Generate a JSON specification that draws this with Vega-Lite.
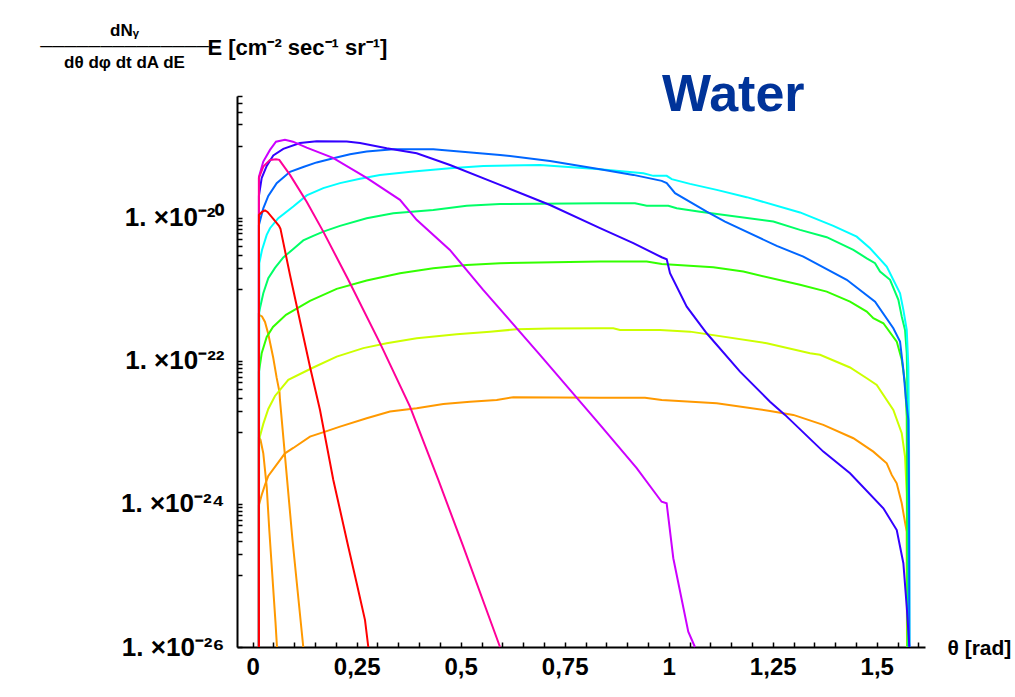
{
"$schema": "https://vega.github.io/schema/vega-lite/v6.json",
"width": 688, "height": 551,
"autosize": {"type": "none"},
"padding": {"left": 237, "top": 96, "right": 90, "bottom": 50},
"background": "white",
"config": {"view": {"stroke": null}, "font": "Liberation Sans"},
"title": {"text": "Water", "anchor": "start", "frame": "group", "dx": 425, "dy": 146, "fontSize": 52, "fontWeight": "bold", "color": "#003399", "font": "Liberation Sans", "baseline": "alphabetic"},
"layer": [
{
"data": {"values": [
{"c":"o1","i":0,"t":0.015,"f":1e-26},{"c":"o1","i":1,"t":0.015,"f":9.66e-25},{"c":"o1","i":2,"t":0.0216,"f":1.33e-24},{"c":"o1","i":3,"t":0.0296,"f":1.84e-24},{"c":"o1","i":4,"t":0.0375,"f":2.45e-24},{"c":"o1","i":5,"t":0.0776,"f":5.09e-24},{"c":"o1","i":6,"t":0.0976,"f":6.04e-24},{"c":"o1","i":7,"t":0.1377,"f":8.69e-24},{"c":"o1","i":8,"t":0.1779,"f":1.04e-23},{"c":"o1","i":9,"t":0.2099,"f":1.2e-23},{"c":"o1","i":10,"t":0.274,"f":1.57e-23},{"c":"o1","i":11,"t":0.33,"f":1.95e-23},{"c":"o1","i":12,"t":0.3942,"f":2.17e-23},{"c":"o1","i":13,"t":0.4582,"f":2.49e-23},{"c":"o1","i":14,"t":0.5224,"f":2.68e-23},{"c":"o1","i":15,"t":0.5865,"f":2.83e-23},{"c":"o1","i":16,"t":0.6264,"f":3.09e-23},{"c":"o1","i":17,"t":0.8349,"f":3.05e-23},{"c":"o1","i":18,"t":0.943,"f":3.05e-23},{"c":"o1","i":19,"t":0.9832,"f":2.83e-23},{"c":"o1","i":20,"t":1.1154,"f":2.55e-23},{"c":"o1","i":21,"t":1.2435,"f":1.99e-23},{"c":"o1","i":22,"t":1.2995,"f":1.75e-23},{"c":"o1","i":23,"t":1.3716,"f":1.27e-23},{"c":"o1","i":24,"t":1.4438,"f":8.26e-24},{"c":"o1","i":25,"t":1.4918,"f":5.37e-24},{"c":"o1","i":26,"t":1.524,"f":3.69e-24},{"c":"o1","i":27,"t":1.536,"f":2.54e-24},{"c":"o1","i":28,"t":1.548,"f":1.94e-24},{"c":"o1","i":29,"t":1.5601,"f":1.02e-24},{"c":"o1","i":30,"t":1.5656,"f":6.62e-25},{"c":"o1","i":31,"t":1.5721,"f":4.08e-25},{"c":"o1","i":32,"t":1.5721,"f":1.48e-25},{"c":"o1","i":33,"t":1.5728,"f":1e-26},
{"c":"o2","i":0,"t":0.015,"f":1e-26},{"c":"o2","i":1,"t":0.015,"f":4.37e-22},{"c":"o2","i":2,"t":0.0224,"f":4.16e-22},{"c":"o2","i":3,"t":0.0296,"f":3.48e-22},{"c":"o2","i":4,"t":0.0375,"f":2.36e-22},{"c":"o2","i":5,"t":0.0495,"f":1.09e-22},{"c":"o2","i":6,"t":0.0577,"f":5.75e-23},{"c":"o2","i":7,"t":0.0615,"f":4.45e-23},{"c":"o2","i":8,"t":0.0644,"f":3.66e-23},{"c":"o2","i":9,"t":0.0656,"f":2.83e-23},{"c":"o2","i":10,"t":0.0957,"f":3.13e-25},{"c":"o2","i":11,"t":0.1216,"f":1e-26},
{"c":"o3","i":0,"t":0.015,"f":1e-26},{"c":"o3","i":1,"t":0.015,"f":8.61e-24},{"c":"o3","i":2,"t":0.0188,"f":7.82e-24},{"c":"o3","i":3,"t":0.0255,"f":5.09e-24},{"c":"o3","i":4,"t":0.0337,"f":1.74e-24},{"c":"o3","i":5,"t":0.0399,"f":4.31e-25},{"c":"o3","i":6,"t":0.0548,"f":2.23e-26},{"c":"o3","i":7,"t":0.0584,"f":1e-26},
{"c":"yg","i":0,"t":0.015,"f":1e-26},{"c":"yg","i":1,"t":0.015,"f":7.82e-24},{"c":"yg","i":2,"t":0.0255,"f":1.31e-23},{"c":"yg","i":3,"t":0.0375,"f":2.12e-23},{"c":"yg","i":4,"t":0.0536,"f":3.22e-23},{"c":"yg","i":5,"t":0.0856,"f":5.4e-23},{"c":"yg","i":6,"t":0.1418,"f":7.85e-23},{"c":"yg","i":7,"t":0.2019,"f":1.14e-22},{"c":"yg","i":8,"t":0.2659,"f":1.5e-22},{"c":"yg","i":9,"t":0.3221,"f":1.76e-22},{"c":"yg","i":10,"t":0.3942,"f":2.06e-22},{"c":"yg","i":11,"t":0.4904,"f":2.34e-22},{"c":"yg","i":12,"t":0.5704,"f":2.55e-22},{"c":"yg","i":13,"t":0.6346,"f":2.75e-22},{"c":"yg","i":14,"t":0.7147,"f":2.82e-22},{"c":"yg","i":15,"t":0.8349,"f":2.84e-22},{"c":"yg","i":16,"t":0.8668,"f":2.84e-22},{"c":"yg","i":17,"t":0.8829,"f":2.69e-22},{"c":"yg","i":18,"t":0.9791,"f":2.69e-22},{"c":"yg","i":19,"t":1.0512,"f":2.55e-22},{"c":"yg","i":20,"t":1.2356,"f":1.76e-22},{"c":"yg","i":21,"t":1.3397,"f":1.27e-22},{"c":"yg","i":22,"t":1.3637,"f":1.21e-22},{"c":"yg","i":23,"t":1.4358,"f":8.05e-23},{"c":"yg","i":24,"t":1.476,"f":5.69e-23},{"c":"yg","i":25,"t":1.5,"f":4.59e-23},{"c":"yg","i":26,"t":1.5399,"f":2.05e-23},{"c":"yg","i":27,"t":1.5601,"f":9.7e-24},{"c":"yg","i":28,"t":1.568,"f":4.57e-24},{"c":"yg","i":29,"t":1.5721,"f":1.41e-24},{"c":"yg","i":30,"t":1.5736,"f":1e-26},
{"c":"g","i":0,"t":0.015,"f":1e-26},{"c":"g","i":1,"t":0.015,"f":6.97e-23},{"c":"g","i":2,"t":0.0216,"f":1.27e-22},{"c":"g","i":3,"t":0.0337,"f":2.15e-22},{"c":"g","i":4,"t":0.0488,"f":2.96e-22},{"c":"g","i":5,"t":0.08,"f":4.37e-22},{"c":"g","i":6,"t":0.1377,"f":6.86e-22},{"c":"g","i":7,"t":0.2019,"f":1.01e-21},{"c":"g","i":8,"t":0.274,"f":1.32e-21},{"c":"g","i":9,"t":0.354,"f":1.67e-21},{"c":"g","i":10,"t":0.4341,"f":1.96e-21},{"c":"g","i":11,"t":0.5144,"f":2.18e-21},{"c":"g","i":12,"t":0.5945,"f":2.31e-21},{"c":"g","i":13,"t":0.8349,"f":2.43e-21},{"c":"g","i":14,"t":0.9471,"f":2.43e-21},{"c":"g","i":15,"t":0.9832,"f":2.25e-21},{"c":"g","i":16,"t":1.1072,"f":2.03e-21},{"c":"g","i":17,"t":1.1793,"f":1.76e-21},{"c":"g","i":18,"t":1.3156,"f":1.15e-21},{"c":"g","i":19,"t":1.3798,"f":9.25e-22},{"c":"g","i":20,"t":1.4358,"f":6.7e-22},{"c":"g","i":21,"t":1.476,"f":4.85e-22},{"c":"g","i":22,"t":1.4918,"f":3.93e-22},{"c":"g","i":23,"t":1.5159,"f":3.34e-22},{"c":"g","i":24,"t":1.5481,"f":1.85e-22},{"c":"g","i":25,"t":1.5601,"f":1.03e-22},{"c":"g","i":26,"t":1.568,"f":4.85e-23},{"c":"g","i":27,"t":1.5721,"f":1.66e-23},{"c":"g","i":28,"t":1.574,"f":1e-26},
{"c":"sg","i":0,"t":0.015,"f":1e-26},{"c":"sg","i":1,"t":0.015,"f":4.66e-22},{"c":"sg","i":2,"t":0.0255,"f":8.77e-22},{"c":"sg","i":3,"t":0.0375,"f":1.42e-21},{"c":"sg","i":4,"t":0.0536,"f":1.98e-21},{"c":"sg","i":5,"t":0.0736,"f":2.78e-21},{"c":"sg","i":6,"t":0.0976,"f":3.65e-21},{"c":"sg","i":7,"t":0.1216,"f":4.8e-21},{"c":"sg","i":8,"t":0.1457,"f":5.55e-21},{"c":"sg","i":9,"t":0.1697,"f":6.37e-21},{"c":"sg","i":10,"t":0.2099,"f":7.66e-21},{"c":"sg","i":11,"t":0.274,"f":9.8e-21},{"c":"sg","i":12,"t":0.338,"f":1.15e-20},{"c":"sg","i":13,"t":0.4341,"f":1.28e-20},{"c":"sg","i":14,"t":0.5144,"f":1.46e-20},{"c":"sg","i":15,"t":0.5945,"f":1.55e-20},{"c":"sg","i":16,"t":0.8349,"f":1.59e-20},{"c":"sg","i":17,"t":0.919,"f":1.59e-20},{"c":"sg","i":18,"t":0.9471,"f":1.46e-20},{"c":"sg","i":19,"t":0.999,"f":1.46e-20},{"c":"sg","i":20,"t":1.0192,"f":1.35e-20},{"c":"sg","i":21,"t":1.0752,"f":1.21e-20},{"c":"sg","i":22,"t":1.2514,"f":8.79e-21},{"c":"sg","i":23,"t":1.3156,"f":6.73e-21},{"c":"sg","i":24,"t":1.3798,"f":5.32e-21},{"c":"sg","i":25,"t":1.4438,"f":3.53e-21},{"c":"sg","i":26,"t":1.476,"f":2.7e-21},{"c":"sg","i":27,"t":1.4959,"f":2.31e-21},{"c":"sg","i":28,"t":1.5079,"f":1.76e-21},{"c":"sg","i":29,"t":1.532,"f":1.35e-21},{"c":"sg","i":30,"t":1.552,"f":7.08e-22},{"c":"sg","i":31,"t":1.5601,"f":4.13e-22},{"c":"sg","i":32,"t":1.568,"f":2.69e-22},{"c":"sg","i":33,"t":1.5721,"f":1.27e-22},{"c":"sg","i":34,"t":1.574,"f":2.83e-23},{"c":"sg","i":35,"t":1.5752,"f":1e-26},
{"c":"cy","i":0,"t":0.015,"f":1e-26},{"c":"cy","i":1,"t":0.0159,"f":2.31e-21},{"c":"cy","i":2,"t":0.0224,"f":3.53e-21},{"c":"cy","i":3,"t":0.0337,"f":5.73e-21},{"c":"cy","i":4,"t":0.0416,"f":7.11e-21},{"c":"cy","i":5,"t":0.0615,"f":9.8e-21},{"c":"cy","i":6,"t":0.0976,"f":1.43e-20},{"c":"cy","i":7,"t":0.1298,"f":2.04e-20},{"c":"cy","i":8,"t":0.1697,"f":2.58e-20},{"c":"cy","i":9,"t":0.2099,"f":3.03e-20},{"c":"cy","i":10,"t":0.2579,"f":3.48e-20},{"c":"cy","i":11,"t":0.306,"f":3.95e-20},{"c":"cy","i":12,"t":0.3861,"f":4.4e-20},{"c":"cy","i":13,"t":0.4743,"f":4.9e-20},{"c":"cy","i":14,"t":0.5543,"f":5.27e-20},{"c":"cy","i":15,"t":0.6906,"f":5.44e-20},{"c":"cy","i":16,"t":0.8349,"f":4.74e-20},{"c":"cy","i":17,"t":0.939,"f":4.17e-20},{"c":"cy","i":18,"t":0.963,"f":3.83e-20},{"c":"cy","i":19,"t":0.9952,"f":3.83e-20},{"c":"cy","i":20,"t":1.0072,"f":3.44e-20},{"c":"cy","i":21,"t":1.0512,"f":2.96e-20},{"c":"cy","i":22,"t":1.1154,"f":2.44e-20},{"c":"cy","i":23,"t":1.1875,"f":1.93e-20},{"c":"cy","i":24,"t":1.3156,"f":1.18e-20},{"c":"cy","i":25,"t":1.3957,"f":7.66e-21},{"c":"cy","i":26,"t":1.4519,"f":5.42e-21},{"c":"cy","i":27,"t":1.4839,"f":3.73e-21},{"c":"cy","i":28,"t":1.524,"f":2.07e-21},{"c":"cy","i":29,"t":1.556,"f":8.77e-22},{"c":"cy","i":30,"t":1.564,"f":5.13e-22},{"c":"cy","i":31,"t":1.5721,"f":2.69e-22},{"c":"cy","i":32,"t":1.576,"f":8.26e-23},{"c":"cy","i":33,"t":1.5777,"f":5.66e-24},{"c":"cy","i":34,"t":1.5788,"f":1e-26},
{"c":"az","i":0,"t":0.015,"f":1e-26},{"c":"az","i":1,"t":0.015,"f":7.91e-21},{"c":"az","i":2,"t":0.0255,"f":1.35e-20},{"c":"az","i":3,"t":0.0375,"f":2.01e-20},{"c":"az","i":4,"t":0.0577,"f":3.03e-20},{"c":"az","i":5,"t":0.0897,"f":4.36e-20},{"c":"az","i":6,"t":0.1216,"f":5.1e-20},{"c":"az","i":7,"t":0.1538,"f":5.9e-20},{"c":"az","i":8,"t":0.1938,"f":6.76e-20},{"c":"az","i":9,"t":0.2339,"f":7.69e-20},{"c":"az","i":10,"t":0.274,"f":8.36e-20},{"c":"az","i":11,"t":0.338,"f":9.04e-20},{"c":"az","i":12,"t":0.4341,"f":9.04e-20},{"c":"az","i":13,"t":0.5945,"f":7.52e-20},{"c":"az","i":14,"t":0.7147,"f":6.19e-20},{"c":"az","i":15,"t":0.8349,"f":4.74e-20},{"c":"az","i":16,"t":0.9149,"f":3.95e-20},{"c":"az","i":17,"t":0.9832,"f":3.26e-20},{"c":"az","i":18,"t":0.9952,"f":3.03e-20},{"c":"az","i":19,"t":1.0152,"f":2.19e-20},{"c":"az","i":20,"t":1.0913,"f":1.21e-20},{"c":"az","i":21,"t":1.1353,"f":8.79e-21},{"c":"az","i":22,"t":1.2596,"f":4.02e-21},{"c":"az","i":23,"t":1.3236,"f":2.85e-21},{"c":"az","i":24,"t":1.4279,"f":1.35e-21},{"c":"az","i":25,"t":1.496,"f":6.7e-22},{"c":"az","i":26,"t":1.5399,"f":2.84e-22},{"c":"az","i":27,"t":1.556,"f":1.85e-22},{"c":"az","i":28,"t":1.564,"f":7.43e-23},{"c":"az","i":29,"t":1.5704,"f":2.83e-23},{"c":"az","i":30,"t":1.576,"f":1.49e-23},{"c":"az","i":31,"t":1.5777,"f":1.13e-24},{"c":"az","i":32,"t":1.5784,"f":1e-26},
{"c":"in","i":0,"t":0.015,"f":1e-26},{"c":"in","i":1,"t":0.015,"f":2.01e-20},{"c":"in","i":2,"t":0.0216,"f":3.56e-20},{"c":"in","i":3,"t":0.0337,"f":5.27e-20},{"c":"in","i":4,"t":0.0495,"f":7.4e-20},{"c":"in","i":5,"t":0.0736,"f":9.12e-20},{"c":"in","i":6,"t":0.1137,"f":1.1e-19},{"c":"in","i":7,"t":0.1538,"f":1.17e-19},{"c":"in","i":8,"t":0.226,"f":1.16e-19},{"c":"in","i":9,"t":0.2579,"f":1.1e-19},{"c":"in","i":10,"t":0.3221,"f":9.33e-20},{"c":"in","i":11,"t":0.3942,"f":7.94e-20},{"c":"in","i":12,"t":0.4743,"f":5.44e-20},{"c":"in","i":13,"t":0.5945,"f":2.86e-20},{"c":"in","i":14,"t":0.7147,"f":1.5e-20},{"c":"in","i":15,"t":0.8349,"f":7.11e-21},{"c":"in","i":16,"t":0.9149,"f":4.39e-21},{"c":"in","i":17,"t":0.9832,"f":2.79e-21},{"c":"in","i":18,"t":0.9952,"f":2.62e-21},{"c":"in","i":19,"t":1.0031,"f":1.67e-21},{"c":"in","i":20,"t":1.0433,"f":5.7e-22},{"c":"in","i":21,"t":1.0913,"f":2.42e-22},{"c":"in","i":22,"t":1.1714,"f":7.05e-23},{"c":"in","i":23,"t":1.2435,"f":2.68e-23},{"c":"in","i":24,"t":1.2796,"f":1.75e-23},{"c":"in","i":25,"t":1.3716,"f":5.37e-24},{"c":"in","i":26,"t":1.4358,"f":2.68e-24},{"c":"in","i":27,"t":1.5159,"f":8.67e-25},{"c":"in","i":28,"t":1.5481,"f":4.31e-25},{"c":"in","i":29,"t":1.564,"f":1.48e-25},{"c":"in","i":30,"t":1.5721,"f":3.66e-26},{"c":"in","i":31,"t":1.5784,"f":1e-26},
{"c":"pu","i":0,"t":0.015,"f":1e-26},{"c":"pu","i":1,"t":0.015,"f":3.71e-20},{"c":"pu","i":2,"t":0.0255,"f":6.07e-20},{"c":"pu","i":3,"t":0.0416,"f":8.83e-20},{"c":"pu","i":4,"t":0.056,"f":1.15e-19},{"c":"pu","i":5,"t":0.0776,"f":1.22e-19},{"c":"pu","i":6,"t":0.0969,"f":1.15e-19},{"c":"pu","i":7,"t":0.1298,"f":9.5e-20},{"c":"pu","i":8,"t":0.193,"f":6.82e-20},{"c":"pu","i":9,"t":0.274,"f":3.59e-20},{"c":"pu","i":10,"t":0.354,"f":1.77e-20},{"c":"pu","i":11,"t":0.394,"f":9.3e-21},{"c":"pu","i":12,"t":0.474,"f":3.53e-21},{"c":"pu","i":13,"t":0.554,"f":9.75e-22},{"c":"pu","i":14,"t":0.691,"f":1.2e-22},{"c":"pu","i":15,"t":0.835,"f":1.27e-23},{"c":"pu","i":16,"t":0.923,"f":3.15e-24},{"c":"pu","i":17,"t":0.983,"f":1.07e-24},{"c":"pu","i":18,"t":0.995,"f":1.02e-24},{"c":"pu","i":19,"t":1.011,"f":1.74e-25},{"c":"pu","i":20,"t":1.047,"f":1.64e-26},{"c":"pu","i":21,"t":1.063,"f":1e-26},
{"c":"pk","i":0,"t":0.015,"f":1e-26},{"c":"pk","i":1,"t":0.015,"f":3.59e-20},{"c":"pk","i":2,"t":0.0255,"f":5.16e-20},{"c":"pk","i":3,"t":0.0416,"f":6.4e-20},{"c":"pk","i":4,"t":0.056,"f":6.55e-20},{"c":"pk","i":5,"t":0.0639,"f":6.4e-20},{"c":"pk","i":6,"t":0.0897,"f":3.95e-20},{"c":"pk","i":7,"t":0.1298,"f":1.66e-20},{"c":"pk","i":8,"t":0.1697,"f":6.37e-21},{"c":"pk","i":9,"t":0.2298,"f":1.35e-21},{"c":"pk","i":10,"t":0.306,"f":1.76e-22},{"c":"pk","i":11,"t":0.3781,"f":2.28e-23},{"c":"pk","i":12,"t":0.4462,"f":2.16e-24},{"c":"pk","i":13,"t":0.5063,"f":2.52e-25},{"c":"pk","i":14,"t":0.5945,"f":1e-26},
{"c":"rd","i":0,"t":0.015,"f":1e-26},{"c":"rd","i":1,"t":0.015,"f":1.09e-20},{"c":"rd","i":2,"t":0.0224,"f":1.2e-20},{"c":"rd","i":3,"t":0.0296,"f":1.26e-20},{"c":"rd","i":4,"t":0.0356,"f":1.2e-20},{"c":"rd","i":5,"t":0.0495,"f":9.6e-21},{"c":"rd","i":6,"t":0.0632,"f":7.66e-21},{"c":"rd","i":7,"t":0.0668,"f":6.95e-21},{"c":"rd","i":8,"t":0.0897,"f":1.58e-21},{"c":"rd","i":9,"t":0.1137,"f":3.6e-22},{"c":"rd","i":10,"t":0.1377,"f":8.26e-23},{"c":"rd","i":11,"t":0.1618,"f":2.05e-23},{"c":"rd","i":12,"t":0.1938,"f":2.16e-24},{"c":"rd","i":13,"t":0.2298,"f":2.52e-25},{"c":"rd","i":14,"t":0.25,"f":7.76e-26},{"c":"rd","i":15,"t":0.27,"f":2.38e-26},{"c":"rd","i":16,"t":0.2779,"f":1e-26}
]},
"mark": {"type": "line", "strokeWidth": 2},
"encoding": {
"x": {"field": "t", "type": "quantitative",
 "scale": {"domain": [-0.0377, 1.616], "nice": false, "zero": false},
 "axis": {"orient": "bottom", "grid": false, "domain": true, "ticks": true,
  "values": [0,0.05,0.1,0.15,0.2,0.25,0.3,0.35,0.4,0.45,0.5,0.55,0.6,0.65,0.7,0.75,0.8,0.85,0.9,0.95,1,1.05,1.1,1.15,1.2,1.25,1.3,1.35,1.4,1.45,1.5,1.55,1.6],
  "domainColor": "black", "domainWidth": 2,
  "tickColor": "black", "tickWidth": 1.5, "tickSize": -5,
  "labelExpr": "abs(datum.value*4 - round(datum.value*4)) < 0.001 ? replace(format(datum.value, '~g'), '.', ',') : ''",
  "labelFont": "Liberation Sans", "labelFontSize": 24, "labelFontWeight": "bold", "labelColor": "black",
  "labelPadding": 13, "labelOverlap": false, "labelFlush": false,
  "title": "θ [rad]", "titleX": 710, "titleY": 1, "titleAlign": "left", "titleBaseline": "middle", "titleAngle": 0,
  "titleFont": "Liberation Sans", "titleFontSize": 21, "titleFontWeight": "bold", "titleColor": "black"}},
"y": {"field": "f", "type": "quantitative",
 "scale": {"type": "log", "domain": [1e-26, 5e-19], "nice": false},
 "axis": {"orient": "left", "grid": false, "domain": true, "ticks": true,
  "values": [1e-26,1e-25,2e-25,3e-25,4e-25,5e-25,6e-25,7e-25,8e-25,9e-25,1e-24,1e-23,2e-23,3e-23,4e-23,5e-23,6e-23,7e-23,8e-23,9e-23,1e-22,1e-21,2e-21,3e-21,4e-21,5e-21,6e-21,7e-21,8e-21,9e-21,1e-20,1e-19,2e-19,3e-19,4e-19,5e-19],
  "domainColor": "black", "domainWidth": 2,
  "tickColor": "black", "tickWidth": 1.5, "tickSize": -5,
  "labelExpr": "datum.value == 1e-20 ? '1. ×10⁻²⁰' : datum.value == 1e-22 ? '1. ×10⁻²²' : datum.value == 1e-24 ? '1. ×10⁻²⁴' : datum.value == 1e-26 ? '1. ×10⁻²⁶' : ''",
  "labelFont": "Liberation Sans", "labelFontSize": 26, "labelFontWeight": "bold", "labelColor": "black",
  "labelAlign": "right", "labelPadding": 18, "labelOverlap": false, "labelFlush": false,
  "title": ["dNᵧ", "──────────────", "dθ dφ dt dA dE"],
  "titleAngle": 0, "titleAlign": "center", "titleBaseline": "alphabetic", "titleX": -113, "titleY": -61,
  "titleFont": "Liberation Sans", "titleFontSize": 17, "titleFontWeight": "bold", "titleColor": "black", "titleLineHeight": 16}},
"color": {"field": "c", "type": "nominal",
 "scale": {"domain": ["o1","o2","o3","yg","g","sg","cy","az","in","pu","pk","rd"],
  "range": ["#ff9900","#ff9900","#ff9900","#ccff00","#33ff00","#00ff66","#00ffff","#0066ff","#3300ff","#cc00ff","#ff0099","#ff0000"]},
 "legend": null},
"order": {"field": "i", "type": "quantitative"}
}
},
{
"data": {"values": [{}]},
"mark": {"type": "rule", "strokeOpacity": 0},
"encoding": {
"y": {"datum": 1e-26, "type": "quantitative",
 "axis": {"orient": "left", "domain": false, "ticks": false, "labels": false, "grid": false,
  "title": "E [cm⁻² sec⁻¹ sr⁻¹]", "titleAngle": 0, "titleAlign": "left", "titleBaseline": "alphabetic",
  "titleX": -30, "titleY": -42, "titleFont": "Liberation Sans", "titleFontSize": 22, "titleFontWeight": "bold", "titleColor": "black"}}
}
}
],
"resolve": {"axis": {"y": "independent"}}
}
